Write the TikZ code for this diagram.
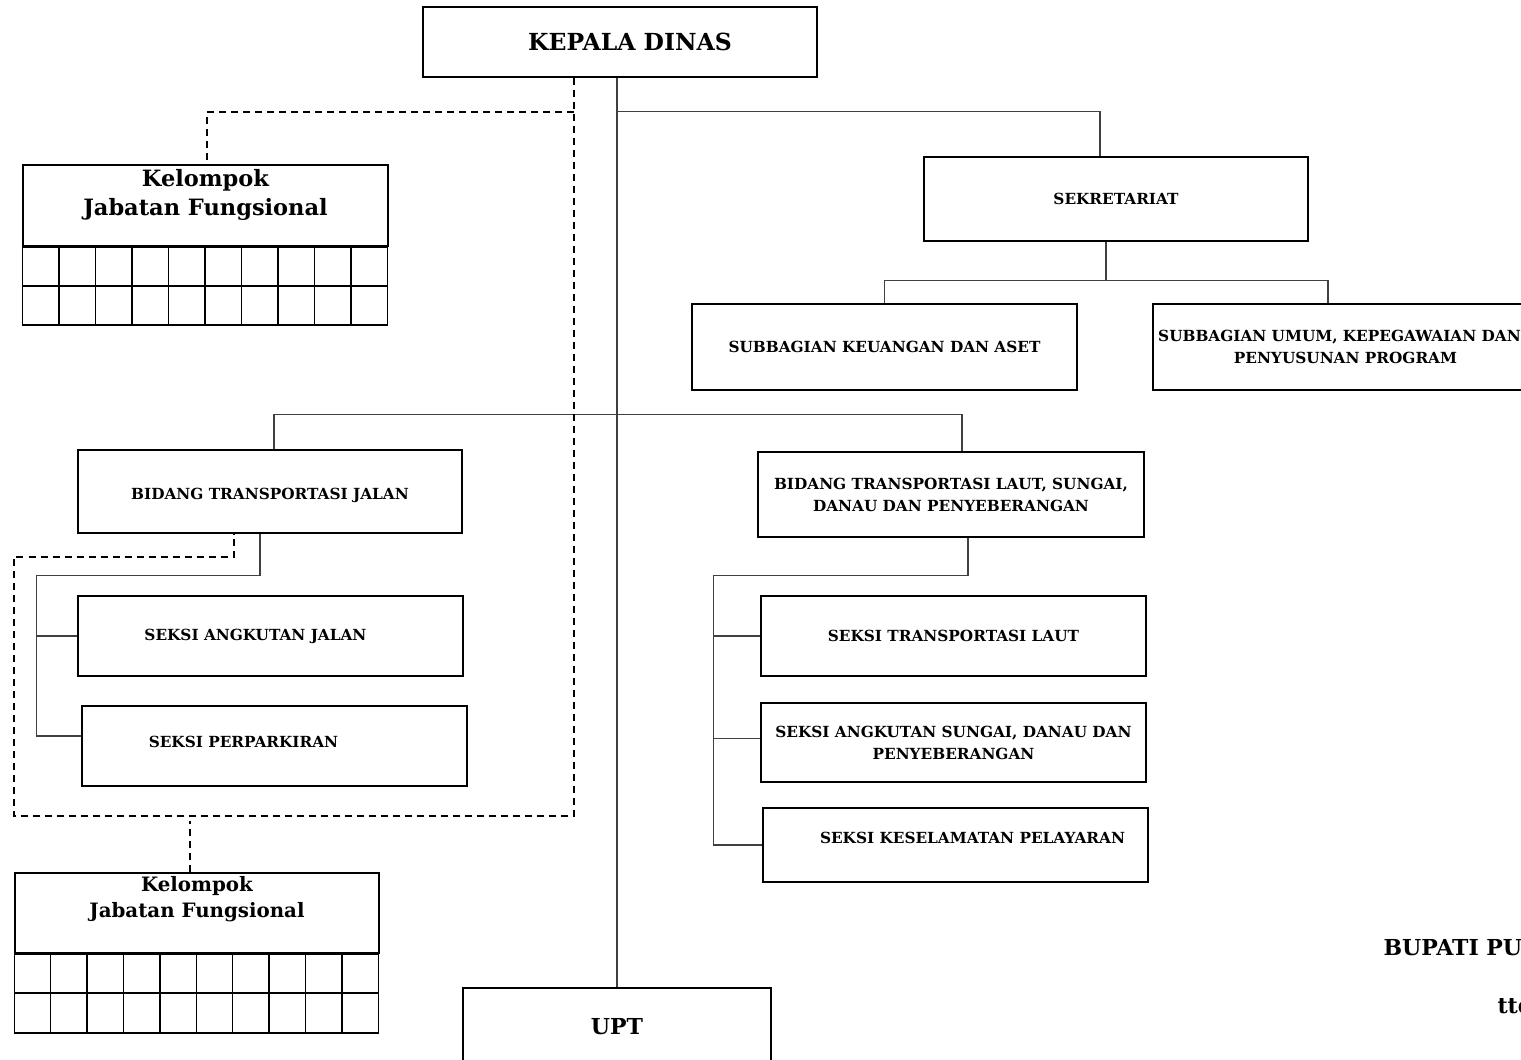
\documentclass[tikz,border=0pt]{standalone}
\usepackage{fontspec}
\setmainfont{DejaVu Serif}
\newcommand\orgfont{\bfseries\fontsize{15.3}{22}\selectfont}
\newcommand\upby[2]{\raisebox{#1}[\height][\depth]{#2}}

\begin{document}
\begin{tikzpicture}[x=1pt,y=-1pt,
	unit/.style={draw,line width=1.5pt,inner sep=0pt,align=center,font=\orgfont},
	link/.style={draw=black!75,line width=1.1pt},
	dline/.style={line width=1.6pt,dash pattern=on 7pt off 5pt},
	cell/.style={line width=1.5pt}]
	\useasboundingbox (0,0) rectangle (1521,1060);
	\clip (0,0) rectangle (1521,1060);
	% pimpinan dan sekretariat
	\node[unit,minimum width=394pt,minimum height=70pt,font=\bfseries\fontsize{23.5}{26}\selectfont] (kepala) at (620,42) {\hspace*{20pt}KEPALA DINAS};
	\node[unit,minimum width=384pt,minimum height=84pt] (sekr) at (1116,199) {SEKRETARIAT};
	\node[unit,minimum width=385pt,minimum height=86pt] (keu) at (884.5,347) {SUBBAGIAN KEUANGAN DAN ASET};
	\node[unit,minimum width=385pt,minimum height=86pt] (umum) at (1345.5,347) {SUBBAGIAN UMUM, KEPEGAWAIAN DAN\hspace*{12pt}\\PENYUSUNAN PROGRAM};
	% bidang
	\node[unit,minimum width=384pt,minimum height=83pt] (bidtj) at (270,491.5) {\upby{-4pt}{BIDANG TRANSPORTASI JALAN}};
	\node[unit,minimum width=386pt,minimum height=85pt] (bidtl) at (951,494.5) {BIDANG TRANSPORTASI LAUT, SUNGAI,\\DANAU DAN PENYEBERANGAN};
	% seksi
	\node[unit,minimum width=385pt,minimum height=80pt] (saj) at (270.5,636) {SEKSI ANGKUTAN JALAN\hspace*{30pt}};
	\node[unit,minimum width=385pt,minimum height=80pt] (spark) at (274.5,746) {\upby{4pt}{SEKSI PERPARKIRAN}\hspace*{62pt}};
	\node[unit,minimum width=385pt,minimum height=80pt] (stl) at (953.5,636) {SEKSI TRANSPORTASI LAUT};
	\node[unit,minimum width=385pt,minimum height=79pt] (sasdp) at (953.5,742.5) {SEKSI ANGKUTAN SUNGAI, DANAU DAN\\PENYEBERANGAN};
	\node[unit,minimum width=385pt,minimum height=74pt] (skp) at (955.5,845) {\hspace*{34pt}\upby{7pt}{SEKSI KESELAMATAN PELAYARAN}};
	\node[unit,minimum width=308pt,minimum height=78pt,font=\bfseries\fontsize{22}{24}\selectfont] (upt) at (617,1027) {UPT};
	% kelompok jabatan fungsional
	\node[unit,minimum width=365pt,minimum height=81pt,font=\bfseries\fontsize{22.5}{29}\selectfont] (kjfa) at (205.5,205.5)
		{\upby{10pt}{\begin{tabular}{@{}c@{}}Kelompok\\Jabatan Fungsional\end{tabular}}};
	\draw[cell] (kjfa.south west) rectangle ++(365,78);
	\draw[cell] (kjfa.south west) ++(0,39) -- ++(365,0);
	\foreach \c in {1,...,9}
	{
		\draw[cell] (kjfa.south west) ++(\c*36.5,0) -- ++(0,78);
	}
	\node[unit,minimum width=364pt,minimum height=80pt,font=\bfseries\fontsize{19.8}{26}\selectfont] (kjfb) at (197,913)
		{\upby{14pt}{\begin{tabular}{@{}c@{}}Kelompok\\Jabatan Fungsional\end{tabular}}};
	\draw[cell] (kjfb.south west) rectangle ++(364,79);
	\draw[cell] (kjfb.south west) ++(0,39) -- ++(364,0);
	\foreach \c in {1,...,9}
	{
		\draw[cell] (kjfb.south west) ++(\c*36.4,0) -- ++(0,79);
	}
	% garis komando
	\draw[link] (upt.north |- kepala.south) -- (upt.north);
	\draw[link] (upt.north |- kepala.south) ++(0,34) -| ([xshift=-16pt]sekr.north);
	\draw[link] ([xshift=-10pt]sekr.south) -- ++(0,39) coordinate (sj);
	\draw[link] (keu.north) |- (sj) -| ([xshift=-17.5pt]umum.north);
	\draw[link] ([xshift=4pt]bidtj.north) -- ++(0,-35) -| ([xshift=11pt]bidtl.north);
	\coordinate (lb) at ([shift={(-45pt,10pt)}]spark.west);
	\draw[link] ([xshift=-10pt]bidtj.south) -- ++(0,42) -| (lb) -- ([yshift=10pt]spark.west);
	\draw[link] (saj.west) -- (saj.west -| lb);
	\coordinate (rb) at ([xshift=-49pt]skp.west);
	\draw[link] ([xshift=17pt]bidtl.south) -- ++(0,38) -| (rb) -- (skp.west);
	\draw[link] (stl.west) -- (stl.west -| rb);
	\draw[link] ([yshift=4pt]sasdp.west) -- ([yshift=4pt]sasdp.west -| rb);
	% garis koordinasi
	\coordinate (dk) at ([xshift=-46pt]kepala.south);
	\coordinate (dc) at (574,816);
	\coordinate (dl) at (14,816);
	\draw[dline] (dk) -- (dc) -- (dl) |- ([shift={(-36pt,-23pt)}]bidtj.south) -- ([xshift=-36pt]bidtj.south);
	\draw[dline] ([yshift=-34pt]dk) -| ([xshift=1.5pt]kjfa.north);
	\draw[dline] ([xshift=-7pt]kjfb.north) -- ++(0,-51);
	% pengesahan
	\node[anchor=west,font=\bfseries\fontsize{22}{26}\selectfont] (bupati) at (1380,947) {BUPATI PULANG PISAU};
	\node[anchor=west,font=\bfseries\fontsize{22}{26}\selectfont] (ttd) at (1494,1005) {ttd};
\end{tikzpicture}
\end{document}
